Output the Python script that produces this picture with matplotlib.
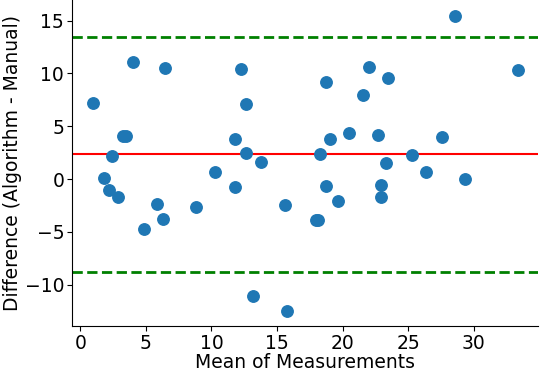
import numpy as np
import matplotlib
matplotlib.use("Agg")
import matplotlib.pyplot as plt

# mean of the two measurements (x) and their difference (y)
means = [0.93, 4.03, 6.47, 12.28, 12.66, 3.27, 3.52, 11.82, 2.43, 12.61,
         13.75, 1.77, 2.20, 2.89, 10.24, 11.82, 5.81, 6.32, 4.87, 8.79,
         15.61, 13.17, 15.76, 28.56, 33.42, 22.05, 18.74, 23.47, 21.56, 19.05,
         20.50, 22.74, 27.57, 18.28, 25.28, 23.32, 26.37, 29.37, 18.74, 22.96,
         19.68, 22.96, 17.95, 18.10]
diffs = [7.19, 11.07, 10.50, 10.43, 7.15, 4.03, 4.03, 3.78, 2.20, 2.46,
         1.60, 0.12, -1.01, -1.67, 0.69, -0.73, -2.40, -3.76, -4.70, -2.65,
         -2.46, -11.10, -12.50, 15.48, 10.34, 10.60, 9.20, 9.58, 7.95, 3.78,
         4.32, 4.13, 4.00, 2.36, 2.27, 1.54, 0.69, 0.00, -0.63, -0.57,
         -2.05, -1.70, -3.88, -3.88]

mean_diff = 2.33
upper_loa = 13.43
lower_loa = -8.84

fig = plt.figure(figsize=(5.4, 3.72), dpi=100)
ax = fig.add_axes([0.133, 0.124, 0.863, 0.876])

ax.scatter(means, diffs, s=68, color='#1f77b4', zorder=3)
ax.axhline(mean_diff, color='red', linewidth=1.5)
ax.axhline(upper_loa, color='green', linestyle='--', linewidth=2)
ax.axhline(lower_loa, color='green', linestyle='--', linewidth=2)

ax.set_xlim(-0.65, 34.9)
ax.set_ylim(-13.9, 16.95)
ax.set_xticks([0, 5, 10, 15, 20, 25, 30])
ax.set_yticks([-10, -5, 0, 5, 10, 15])
ax.tick_params(labelsize=13.5, pad=2)
ax.spines['top'].set_visible(False)
ax.spines['right'].set_visible(False)

ax.set_xlabel('Mean of Measurements', fontsize=13.5, labelpad=0)
ax.set_ylabel('Difference (Algorithm - Manual)', fontsize=13.5, labelpad=2)

fig.savefig('out.png', dpi=100)
